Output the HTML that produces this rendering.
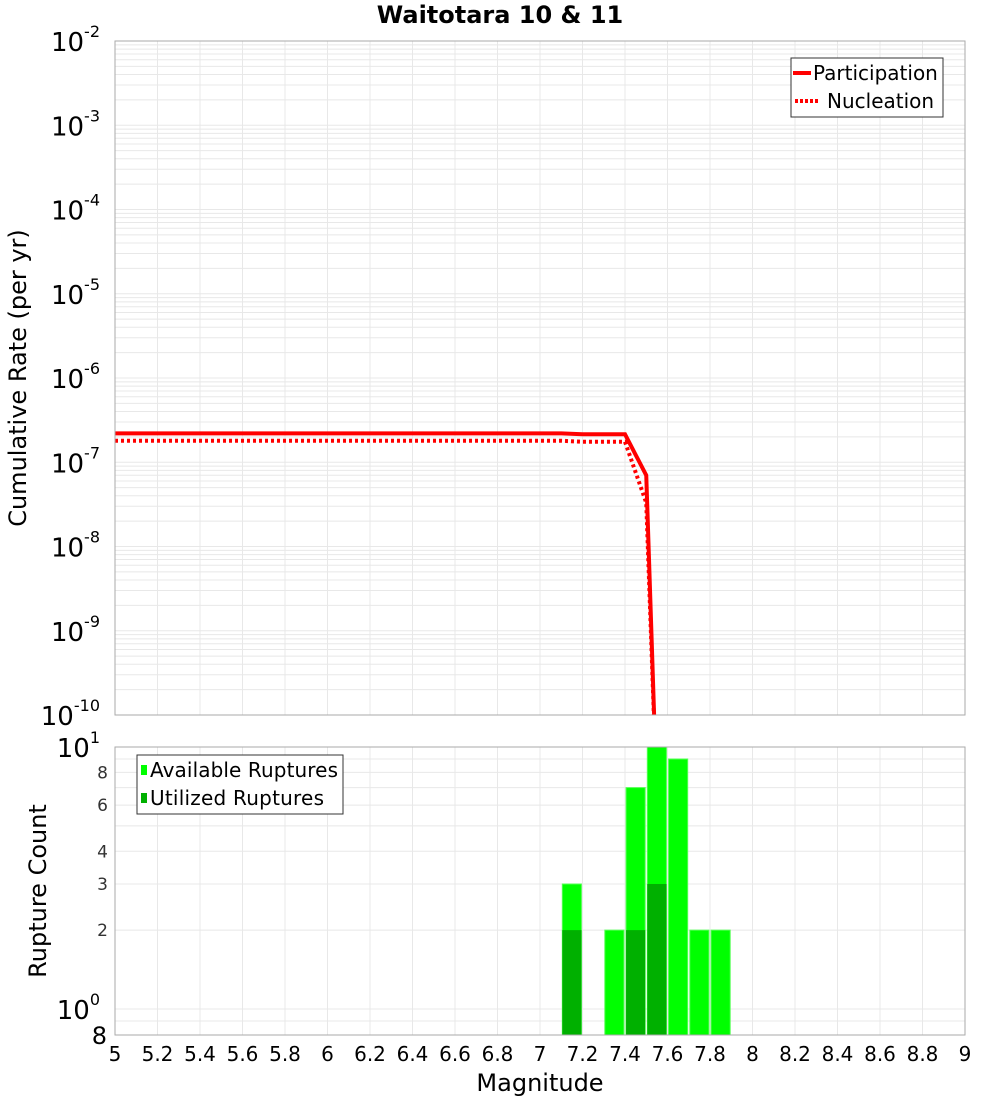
<!DOCTYPE html>
<html><head><meta charset="utf-8"><style>
body{margin:0;background:#fff;font-family:"DejaVu Sans","Liberation Sans",sans-serif;}
svg text{font-family:"DejaVu Sans","Liberation Sans",sans-serif;}
</style></head><body>
<svg id="c" width="1000" height="1100" xmlns="http://www.w3.org/2000/svg"></svg>
<script>
const xTicks=[5,5.2,5.4,5.6,5.8,6,6.2,6.4,6.6,6.8,7,7.2,7.4,7.6,7.8,8,8.2,8.4,8.6,8.8,9];
const partMag=[5,5.1,5.2,5.3,5.4,5.5,5.6,5.7,5.8,5.9,6,6.1,6.2,6.3,6.4,6.5,6.6,6.7,6.8,6.9,7,7.1,7.2,7.3,7.4,7.5,7.55];
const partRate=[2.2e-7,2.2e-7,2.2e-7,2.2e-7,2.2e-7,2.2e-7,2.2e-7,2.2e-7,2.2e-7,2.2e-7,2.2e-7,2.2e-7,2.2e-7,2.2e-7,2.2e-7,2.2e-7,2.2e-7,2.2e-7,2.2e-7,2.2e-7,2.2e-7,2.2e-7,2.15e-7,2.15e-7,2.15e-7,7e-8,1e-11];
const nuclMag=[5,5.5,6,6.5,7,7.1,7.2,7.3,7.4,7.5,7.55];
const nuclRate=[1.8e-7,1.8e-7,1.8e-7,1.8e-7,1.8e-7,1.8e-7,1.75e-7,1.75e-7,1.75e-7,3.3e-8,1e-11];
const barMag=[7.15,7.35,7.45,7.55,7.65,7.75,7.85];
const availCount=[3,2,7,10,9,2,2];
const usedCount=[2,0,2,3,0,0,0];
const topExp=[-2,-3,-4,-5,-6,-7,-8,-9,-10];
const botTicks=[2,3,4,6,8];

const S=document.getElementById('c'),NS='http://www.w3.org/2000/svg';
function el(t,a,p){const e=document.createElementNS(NS,t);for(const k in a)e.setAttribute(k,a[k]);(p||S).appendChild(e);return e;}
const L=115,R=965,T1=41,B1=715,T2=747,B2=1035;
const X=m=>L+(m-5)/4*(R-L);
const Y1=v=>T1+(-2-Math.log10(v))*(B1-T1)/8;
const Y2=v=>1009-Math.log10(v)*262;

let t=el('text',{x:500,y:23,'text-anchor':'middle','font-size':24,'font-weight':'bold'});t.textContent='Waitotara 10 & 11';


const g1=el('g',{});
for(let e=-10;e<-2;e++)for(let k=1;k<10;k++){const y=Y1(k*Math.pow(10,e));el('line',{x1:L,x2:R,y1:y,y2:y,stroke:'#e8e8e8','stroke-width':1},g1);}
xTicks.forEach(m=>{el('line',{x1:X(m),x2:X(m),y1:T1,y2:B1,stroke:'#e8e8e8'},g1);el('line',{x1:X(m),x2:X(m),y1:T2,y2:B2,stroke:'#e8e8e8'},g1);});
for(let k=1;k<=10;k++){const y=Y2(k);el('line',{x1:L,x2:R,y1:y,y2:y,stroke:'#e8e8e8'},g1);}
el('line',{x1:L,x2:R,y1:Y2(0.9),y2:Y2(0.9),stroke:'#e8e8e8'},g1);

topExp.forEach(e=>{const y=Y1(Math.pow(10,e));const tx=el('text',{x:100,y:y+10,'text-anchor':'end','font-size':26});tx.textContent='10';
const s=el('tspan',{dy:-14,'font-size':16},tx);s.textContent=String(e);
});
t=el('text',{x:0,y:0,'font-size':24,'text-anchor':'middle',transform:'translate(26,378) rotate(-90)'});t.textContent='Cumulative Rate (per yr)';


const defs=el('defs',{});const cp=el('clipPath',{id:'cp1'},defs);el('rect',{x:L,y:T1,width:R-L,height:B1-T1},cp);
const pp=partMag.map((m,i)=>X(m)+','+Y1(partRate[i])).join(' ');
let p=el('polyline',{points:pp,fill:'none',stroke:'#f00','stroke-width':4,'clip-path':'url(#cp1)'});

const np=nuclMag.map((m,i)=>X(m)+','+Y1(nuclRate[i])).join(' ');
p=el('polyline',{points:np,fill:'none',stroke:'#f00','stroke-width':4,'stroke-dasharray':'3,3','clip-path':'url(#cp1)'});

el('rect',{x:L,y:T1,width:R-L,height:B1-T1,fill:'none',stroke:'#aaa'});

const lg=el('g',{});
el('rect',{x:791,y:58,width:152,height:59,fill:'#fff',stroke:'#333'},lg);
el('line',{x1:793,x2:811,y1:73,y2:73,stroke:'#f00','stroke-width':4},lg);
el('line',{x1:795,x2:820,y1:101,y2:101,stroke:'#f00','stroke-width':4,'stroke-dasharray':'3,2'},lg);
t=el('text',{x:813,y:80,'font-size':20},lg);t.textContent='Participation';
t=el('text',{x:827,y:108,'font-size':20},lg);t.textContent='Nucleation';

const cp2=el('clipPath',{id:'cp2'},defs);el('rect',{x:L,y:T2,width:R-L,height:B2-T2},cp2);
const bw=(X(5.1)-X(5))*0.9;
barMag.forEach((m,i)=>{let r=el('rect',{x:X(m)-bw/2,y:Y2(availCount[i]),width:bw,height:B2-Y2(availCount[i]),fill:'#00ff00',stroke:'#55ff55','clip-path':'url(#cp2)'});

if(usedCount[i]>0){r=el('rect',{x:X(m)-bw/2,y:Y2(usedCount[i]),width:bw,height:B2-Y2(usedCount[i]),fill:'#00b000','clip-path':'url(#cp2)'});
}});
el('rect',{x:L,y:T2,width:R-L,height:B2-T2,fill:'none',stroke:'#aaa'});

botTicks.forEach(v=>{const tx=el('text',{x:108,y:Y2(v)+6,'text-anchor':'end','font-size':17,fill:'#333'});tx.textContent=String(v);
});
[[1,0],[10,1]].forEach(([v,e])=>{const tx=el('text',{x:100,y:Y2(v)+10,'text-anchor':'end','font-size':26});tx.textContent='10';
const s=el('tspan',{dy:-14,'font-size':16},tx);s.textContent=String(e);});
t=el('text',{x:107,y:1044,'text-anchor':'end','font-size':24});t.textContent='8';
t=el('text',{x:0,y:0,'font-size':24,'text-anchor':'middle',transform:'translate(46,891) rotate(-90)'});t.textContent='Rupture Count';


const lg2=el('g',{});
el('rect',{x:137,y:755,width:206,height:59,fill:'#fff',stroke:'#333'},lg2);
el('rect',{x:141,y:765,width:6,height:10,fill:'#00ff00'},lg2);
el('rect',{x:141,y:793,width:6,height:10,fill:'#00b000'},lg2);
t=el('text',{x:150,y:777,'font-size':20,textLength:188},lg2);t.textContent='Available Ruptures';
t=el('text',{x:150,y:805,'font-size':20,textLength:174},lg2);t.textContent='Utilized Ruptures';

xTicks.forEach(m=>{const tx=el('text',{x:X(m),y:1061,'text-anchor':'middle','font-size':20});tx.textContent=String(m);
});
t=el('text',{x:540,y:1091,'text-anchor':'middle','font-size':24});t.textContent='Magnitude';

</script>
</body></html>
